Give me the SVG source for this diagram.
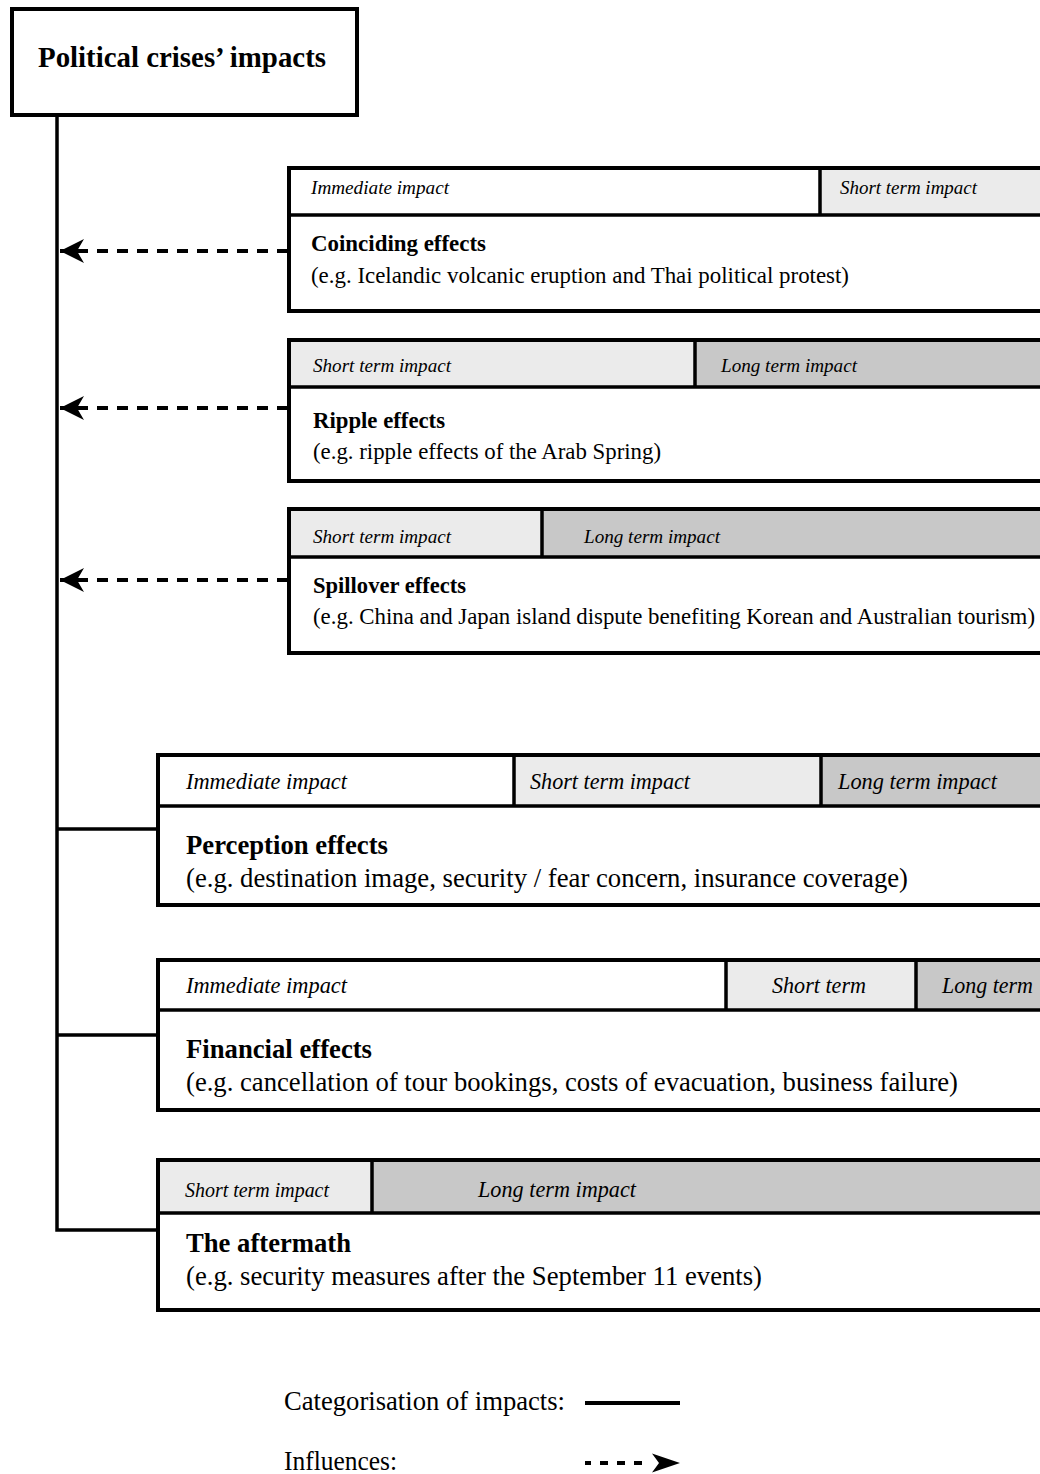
<svg xmlns="http://www.w3.org/2000/svg" width="1040" height="1474" viewBox="0 0 1040 1474" font-family="'Liberation Serif', serif">
<style>
text{font-family:'Liberation Serif','Times New Roman',serif;fill:#000}
.hd{font-style:italic;font-size:19.2px}
.hdL{font-style:italic;font-size:22.2px}
.ti{font-weight:bold;font-size:22.7px}
.ex{font-size:22.7px}
.tiL{font-weight:bold;font-size:26.6px}
.exL{font-size:26.5px}
.box{fill:#fff;stroke:#000;stroke-width:4}
.sep{stroke:#000;stroke-width:3.5;fill:none}
.c2{fill:#ebebeb}
.c3{fill:#c8c8c8}
.trunk{stroke:#000;stroke-width:3.5;fill:none}
.dash{stroke:#000;stroke-width:4;stroke-dasharray:11 9;fill:none}
</style>
<defs>
<marker id="ah" markerUnits="userSpaceOnUse" viewBox="0 0 24 24" refX="24" refY="12" markerWidth="24" markerHeight="24" orient="auto">
<path d="M0,0 L24,12 L0,24 L7,12 Z" fill="#000"/>
</marker>
</defs>

<g id="title">
<rect x="12" y="9" width="345" height="106" class="box"/>
<text x="38" y="67" font-weight="bold" font-size="28.7" textLength="288" lengthAdjust="spacingAndGlyphs">Political crises’ impacts</text>
</g>

<g id="connectors">
<path class="trunk" d="M57,117 V1230 H158 M57,829 H158 M57,1035 H158"/>
<line class="dash" x1="288" y1="251" x2="60" y2="251" marker-end="url(#ah)"/>
<line class="dash" x1="288" y1="408" x2="60" y2="408" marker-end="url(#ah)"/>
<line class="dash" x1="288" y1="580" x2="60" y2="580" marker-end="url(#ah)"/>
</g>

<g id="coinciding">
<rect x="289" y="168" width="780" height="143" class="box"/>
<rect x="820" y="170" width="240" height="45" class="c2"/>
<path class="sep" d="M289,215 H1060 M820,168 V215"/>
<text class="hd" x="311" y="194" textLength="138" lengthAdjust="spacingAndGlyphs">Immediate impact</text>
<text class="hd" x="840" y="194" textLength="137" lengthAdjust="spacingAndGlyphs">Short term impact</text>
<text class="ti" x="311" y="251" textLength="175" lengthAdjust="spacingAndGlyphs">Coinciding effects</text>
<text class="ex" x="311" y="283" textLength="538" lengthAdjust="spacingAndGlyphs">(e.g. Icelandic volcanic eruption and Thai political protest)</text>
</g>

<g id="ripple">
<rect x="289" y="340" width="780" height="141" class="box"/>
<rect x="291" y="342" width="404" height="45" class="c2"/>
<rect x="695" y="342" width="360" height="45" class="c3"/>
<path class="sep" d="M289,387 H1060 M695,340 V387"/>
<text class="hd" x="313" y="372" textLength="138" lengthAdjust="spacingAndGlyphs">Short term impact</text>
<text class="hd" x="721" y="372" textLength="136" lengthAdjust="spacingAndGlyphs">Long term impact</text>
<text class="ti" x="313" y="428" textLength="132" lengthAdjust="spacingAndGlyphs">Ripple effects</text>
<text class="ex" x="313" y="459" textLength="348" lengthAdjust="spacingAndGlyphs">(e.g. ripple effects of the Arab Spring)</text>
</g>

<g id="spillover">
<rect x="289" y="509" width="780" height="144" class="box"/>
<rect x="291" y="511" width="251" height="46" class="c2"/>
<rect x="542" y="511" width="520" height="46" class="c3"/>
<path class="sep" d="M289,557 H1060 M542,509 V557"/>
<text class="hd" x="313" y="543" textLength="138" lengthAdjust="spacingAndGlyphs">Short term impact</text>
<text class="hd" x="584" y="543" textLength="136" lengthAdjust="spacingAndGlyphs">Long term impact</text>
<text class="ti" x="313" y="593" textLength="153" lengthAdjust="spacingAndGlyphs">Spillover effects</text>
<text class="ex" x="313" y="624" textLength="722" lengthAdjust="spacingAndGlyphs">(e.g. China and Japan island dispute benefiting Korean and Australian tourism)</text>
</g>

<g id="perception">
<rect x="158" y="755" width="910" height="150" class="box"/>
<rect x="514" y="757" width="307" height="49" class="c2"/>
<rect x="821" y="757" width="240" height="49" class="c3"/>
<path class="sep" d="M158,806 H1060 M514,755 V806 M821,755 V806"/>
<text class="hdL" x="186" y="789" textLength="161" lengthAdjust="spacingAndGlyphs">Immediate impact</text>
<text class="hdL" x="530" y="789" textLength="160" lengthAdjust="spacingAndGlyphs">Short term impact</text>
<text class="hdL" x="838" y="789" textLength="159" lengthAdjust="spacingAndGlyphs">Long term impact</text>
<text class="tiL" x="186" y="854" textLength="202" lengthAdjust="spacingAndGlyphs">Perception effects</text>
<text class="exL" x="186" y="887" textLength="722" lengthAdjust="spacingAndGlyphs">(e.g. destination image, security / fear concern, insurance coverage)</text>
</g>

<g id="financial">
<rect x="158" y="960" width="910" height="150" class="box"/>
<rect x="726" y="962" width="190" height="48" class="c2"/>
<rect x="916" y="962" width="150" height="48" class="c3"/>
<path class="sep" d="M158,1010 H1060 M726,960 V1010 M916,960 V1010"/>
<text class="hdL" x="186" y="993" textLength="161" lengthAdjust="spacingAndGlyphs">Immediate impact</text>
<text class="hdL" x="772" y="993" textLength="94" lengthAdjust="spacingAndGlyphs">Short term</text>
<text class="hdL" x="942" y="993" textLength="91" lengthAdjust="spacingAndGlyphs">Long term</text>
<text class="tiL" x="186" y="1058" textLength="186" lengthAdjust="spacingAndGlyphs">Financial effects</text>
<text class="exL" x="186" y="1091" textLength="772" lengthAdjust="spacingAndGlyphs">(e.g. cancellation of tour bookings, costs of evacuation, business failure)</text>
</g>

<g id="aftermath">
<rect x="158" y="1160" width="910" height="150" class="box"/>
<rect x="160" y="1162" width="212" height="51" class="c2"/>
<rect x="372" y="1162" width="690" height="51" class="c3"/>
<path class="sep" d="M158,1213 H1060 M372,1160 V1213"/>
<text class="hdL" x="185" y="1197" textLength="144" lengthAdjust="spacingAndGlyphs" style="font-size:20px">Short term impact</text>
<text class="hdL" x="478" y="1197" textLength="158" lengthAdjust="spacingAndGlyphs">Long term impact</text>
<text class="tiL" x="186" y="1252" textLength="165" lengthAdjust="spacingAndGlyphs">The aftermath</text>
<text class="exL" x="186" y="1285" textLength="576" lengthAdjust="spacingAndGlyphs">(e.g. security measures after the September 11 events)</text>
</g>

<g id="legend">
<text class="exL" x="284" y="1410" textLength="281" lengthAdjust="spacingAndGlyphs">Categorisation of impacts:</text>
<line x1="585" y1="1403" x2="680" y2="1403" stroke="#000" stroke-width="4"/>
<text class="exL" x="284" y="1470" textLength="113" lengthAdjust="spacingAndGlyphs">Influences:</text>
<path d="M585,1463 H591 M600,1463 H608 M617,1463 H625 M634,1463 H642" stroke="#000" stroke-width="4" fill="none"/>
<path d="M652,1453.5 L680,1463 L652,1472.5 L659,1463 Z" fill="#000"/>
</g>
</svg>
